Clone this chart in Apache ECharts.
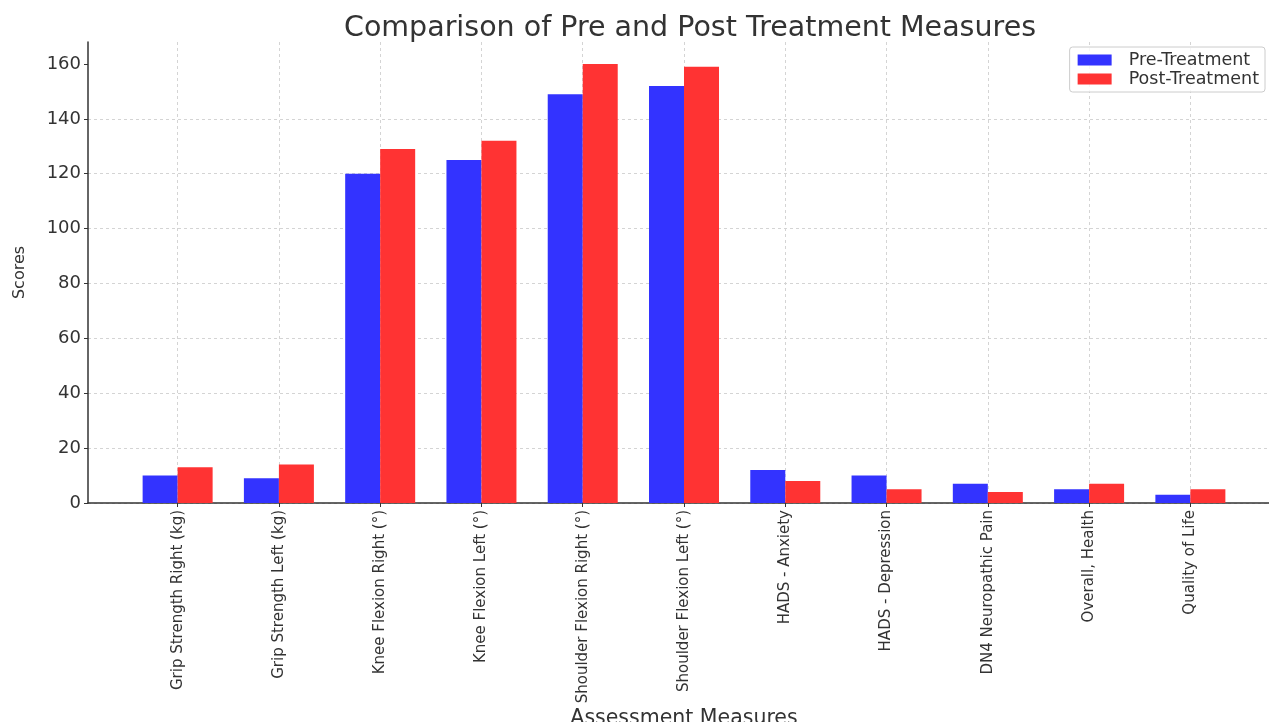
<!DOCTYPE html>
<html>
<head>
<meta charset="utf-8">
<script src="https://cdn.jsdelivr.net/npm/echarts@6/dist/echarts.min.js"></script>
<style>html,body{margin:0;padding:0;background:#fff;}#c{width:1269px;height:722px;}</style>
</head>
<body>
<div id="c"></div>
<script>
var categories = ["Grip Strength Right (kg)", "Grip Strength Left (kg)", "Knee Flexion Right (°)", "Knee Flexion Left (°)", "Shoulder Flexion Right (°)", "Shoulder Flexion Left (°)", "HADS - Anxiety", "HADS - Depression", "DN4 Neuropathic Pain", "Overall, Health", "Quality of Life"];
var preTreatment = [10, 9, 120, 125, 149, 152, 12, 10, 7, 5, 3];
var postTreatment = [13, 14, 129, 132, 160, 159, 8, 5, 4, 7, 5];
var yTicks = [0, 20, 40, 60, 80, 100, 120, 140, 160];

var positions = categories.map(function (c, i) { return i; });
var font = "DejaVu Sans";
var chart = echarts.init(document.getElementById('c'), null, {renderer: 'canvas'});
chart.setOption({
  animation: false,
  backgroundColor: '#ffffff',
  title: {
    text: 'Comparison of Pre and Post Treatment Measures',
    left: 685, top: 9, textAlign: 'center',
    textStyle: {fontFamily: font, fontSize: 28.5, fontWeight: 'normal', color: '#333333'}
  },
  legend: {
    orient: 'vertical', right: 4, top: 47,
    itemWidth: 34, itemHeight: 11, itemGap: 1,
    padding: [4, 6, 4, 8],
    borderColor: '#cccccc', borderWidth: 1, borderRadius: 3,
    backgroundColor: 'rgba(255,255,255,0.8)',
    icon: 'rect',
    textStyle: {fontFamily: font, fontSize: 17.5, color: '#333333', padding: [0, 0, 0, 12]},
    data: ['Pre-Treatment', 'Post-Treatment']
  },
  grid: {left: 88, top: 42, width: 1192, bottom: 219, containLabel: false, outerBoundsMode: 'none'},
  xAxis: {
    type: 'value', min: -0.885, max: 10.885,
    name: 'Assessment Measures', nameLocation: 'middle', nameGap: 205, nameMoveOverlap: false,
    nameTextStyle: {fontFamily: font, fontSize: 20.5, color: '#333333', verticalAlign: 'top'},
    axisLine: {show: true, onZero: false, lineStyle: {color: '#333333', width: 1.5}},
    axisTick: {show: true, length: 4, customValues: positions, lineStyle: {color: '#333333'}},
    axisLabel: {
      customValues: positions, rotate: 90, margin: 7,
      fontFamily: font, fontSize: 15, color: '#333333',
      formatter: function (v) { return categories[Math.round(v)] || ''; }
    },
    splitLine: {show: true, lineStyle: {color: '#d4d4d4', type: [3, 3], width: 1}}
  },
  yAxis: {
    type: 'value', min: 0, max: 168, interval: 20,
    name: 'Scores', nameLocation: 'middle', nameGap: 60, nameMoveOverlap: false,
    nameTextStyle: {fontFamily: font, fontSize: 16, color: '#333333'},
    axisLine: {show: true, onZero: false, lineStyle: {color: '#333333', width: 1.5}},
    axisTick: {show: true, length: 4, customValues: yTicks, lineStyle: {color: '#333333'}},
    axisLabel: {
      fontFamily: font, fontSize: 18, color: '#333333', margin: 7,
      customValues: yTicks
    },
    splitLine: {show: true, showMaxLine: false, lineStyle: {color: '#d4d4d4', type: [3, 3], width: 1}}
  },
  series: [
    {
      name: 'Pre-Treatment', type: 'bar', barWidth: 35, barGap: '0%',
      itemStyle: {color: '#3333ff'},
      data: preTreatment.map(function (v, i) { return [positions[i], v]; })
    },
    {
      name: 'Post-Treatment', type: 'bar', barWidth: 35, barGap: '0%',
      itemStyle: {color: '#ff3333'},
      data: postTreatment.map(function (v, i) { return [positions[i], v]; })
    }
  ]
});
</script>
</body>
</html>
